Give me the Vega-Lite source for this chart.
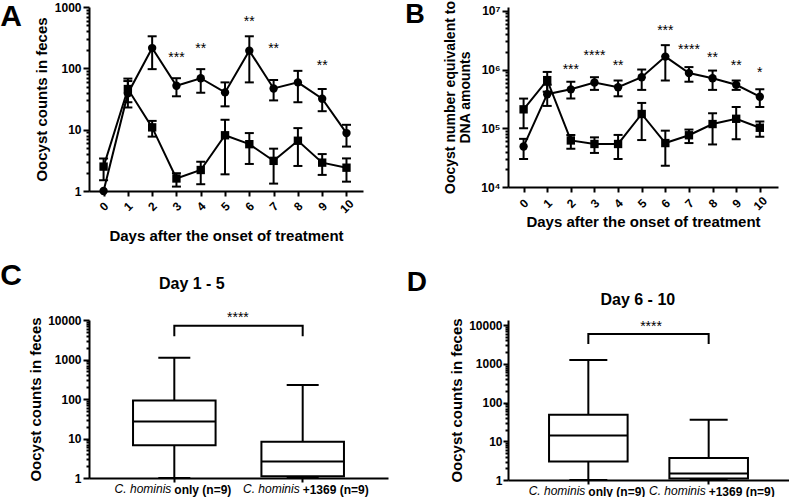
{
  "$schema": "https://vega.github.io/schema/vega-lite/v6.json",
  "background": "white",
  "padding": {"left": 0, "top": 0, "right": 0, "bottom": 0},
  "config": {
    "font": "Liberation Sans",
    "view": {"stroke": null},
    "axis": {
      "grid": false, "domainColor": "black", "domainWidth": 2, "tickColor": "black", "tickWidth": 2,
      "labelColor": "black", "labelFontWeight": "bold", "labelFontSize": 12, "labelFont": "Liberation Sans", "labelFlush": false, "labelOverlap": false,
      "titleColor": "black", "titleFontWeight": "bold", "titleFontSize": 15, "titleFont": "Liberation Sans"
    },
    "tick": {"opacity": 1},
    "text": {"color": "black"}
  },
  "datasets": {
    "A": [
      {"day": 0, "series": "C. hominis only", "mean": 1, "lo": null, "hi": null},
      {"day": 1, "series": "C. hominis only", "mean": 39, "lo": 23, "hi": 68},
      {"day": 2, "series": "C. hominis only", "mean": 214, "lo": 97, "hi": 333},
      {"day": 3, "series": "C. hominis only", "mean": 52, "lo": 35, "hi": 69},
      {"day": 4, "series": "C. hominis only", "mean": 69, "lo": 40, "hi": 97},
      {"day": 5, "series": "C. hominis only", "mean": 40.5, "lo": 24, "hi": 59},
      {"day": 6, "series": "C. hominis only", "mean": 194, "lo": 59, "hi": 333},
      {"day": 7, "series": "C. hominis only", "mean": 47, "lo": 30, "hi": 64.5},
      {"day": 8, "series": "C. hominis only", "mean": 59, "lo": 28, "hi": 91},
      {"day": 9, "series": "C. hominis only", "mean": 32, "lo": 20, "hi": 46},
      {"day": 10, "series": "C. hominis only", "mean": 8.8, "lo": 5.3, "hi": 12},
      {"day": 0, "series": "C. hominis+1369", "mean": 2.5, "lo": 1.5, "hi": 3.4},
      {"day": 1, "series": "C. hominis+1369", "mean": 46, "lo": 28, "hi": 62},
      {"day": 2, "series": "C. hominis+1369", "mean": 10.9, "lo": 7.7, "hi": 13.9},
      {"day": 3, "series": "C. hominis+1369", "mean": 1.6, "lo": 1.18, "hi": 1.95},
      {"day": 4, "series": "C. hominis+1369", "mean": 2.2, "lo": 1.29, "hi": 3.0},
      {"day": 5, "series": "C. hominis+1369", "mean": 8.1, "lo": 1.87, "hi": 14.5},
      {"day": 6, "series": "C. hominis+1369", "mean": 5.8, "lo": 2.76, "hi": 8.8},
      {"day": 7, "series": "C. hominis+1369", "mean": 3.1, "lo": 1.32, "hi": 4.9},
      {"day": 8, "series": "C. hominis+1369", "mean": 6.6, "lo": 2.56, "hi": 10.6},
      {"day": 9, "series": "C. hominis+1369", "mean": 2.9, "lo": 1.83, "hi": 4.0},
      {"day": 10, "series": "C. hominis+1369", "mean": 2.4, "lo": 1.42, "hi": 3.4}
    ],
    "Astars": [
      {"day": 3, "pos": 146, "label": "***"},
      {"day": 4, "pos": 210, "label": "**"},
      {"day": 6, "pos": 580, "label": "**"},
      {"day": 7, "pos": 210, "label": "**"},
      {"day": 9, "pos": 111, "label": "**"}
    ],
    "B": [
      {"day": 0, "series": "C. hominis only", "mean": 4.9e4, "lo": 3.0e4, "hi": 6.6e4},
      {"day": 1, "series": "C. hominis only", "mean": 3.8e5, "lo": 2.4e5, "hi": 5.5e5},
      {"day": 2, "series": "C. hominis only", "mean": 4.6e5, "lo": 3.2e5, "hi": 6.2e5},
      {"day": 3, "series": "C. hominis only", "mean": 6.0e5, "lo": 4.5e5, "hi": 7.4e5},
      {"day": 4, "series": "C. hominis only", "mean": 5.0e5, "lo": 3.5e5, "hi": 6.5e5},
      {"day": 5, "series": "C. hominis only", "mean": 7.4e5, "lo": 4.5e5, "hi": 1.0e6},
      {"day": 6, "series": "C. hominis only", "mean": 1.66e6, "lo": 6.5e5, "hi": 2.6e6},
      {"day": 7, "series": "C. hominis only", "mean": 8.7e5, "lo": 6.2e5, "hi": 1.1e6},
      {"day": 8, "series": "C. hominis only", "mean": 7.1e5, "lo": 4.5e5, "hi": 9.6e5},
      {"day": 9, "series": "C. hominis only", "mean": 5.5e5, "lo": 4.5e5, "hi": 6.5e5},
      {"day": 10, "series": "C. hominis only", "mean": 3.45e5, "lo": 2.3e5, "hi": 4.6e5},
      {"day": 0, "series": "C. hominis+1369", "mean": 2.1e5, "lo": 1.0e5, "hi": 3.2e5},
      {"day": 1, "series": "C. hominis+1369", "mean": 6.6e5, "lo": 4.2e5, "hi": 9.1e5},
      {"day": 2, "series": "C. hominis+1369", "mean": 6.2e4, "lo": 4.5e4, "hi": 7.7e4},
      {"day": 3, "series": "C. hominis+1369", "mean": 5.4e4, "lo": 3.8e4, "hi": 7.0e4},
      {"day": 4, "series": "C. hominis+1369", "mean": 5.4e4, "lo": 3.0e4, "hi": 7.7e4},
      {"day": 5, "series": "C. hominis+1369", "mean": 1.75e5, "lo": 6.3e4, "hi": 2.7e5},
      {"day": 6, "series": "C. hominis+1369", "mean": 5.6e4, "lo": 2.3e4, "hi": 9.1e4},
      {"day": 7, "series": "C. hominis+1369", "mean": 7.6e4, "lo": 5.6e4, "hi": 9.5e4},
      {"day": 8, "series": "C. hominis+1369", "mean": 1.18e5, "lo": 5.3e4, "hi": 1.8e5},
      {"day": 9, "series": "C. hominis+1369", "mean": 1.45e5, "lo": 6.5e4, "hi": 2.3e5},
      {"day": 10, "series": "C. hominis+1369", "mean": 1.02e5, "lo": 7.2e4, "hi": 1.3e5}
    ],
    "Bstars": [
      {"day": 2, "pos": 9.9e5, "label": "***"},
      {"day": 3, "pos": 1.71e6, "label": "****"},
      {"day": 4, "pos": 1.13e6, "label": "**"},
      {"day": 6, "pos": 4.56e6, "label": "***"},
      {"day": 7, "pos": 2.17e6, "label": "****"},
      {"day": 8, "pos": 1.56e6, "label": "**"},
      {"day": 9, "pos": 1.13e6, "label": "**"},
      {"day": 10, "pos": 8.65e5, "label": "*"}
    ],
    "C": [
      {"grp": "C. hominis only (n=9)", "lo": 1, "q1": 6.7, "med": 27, "q3": 91, "hi": 1100},
      {"grp": "C. hominis+1369 (n=9)", "lo": 1, "q1": 1.1, "med": 2.6, "q3": 8.3, "hi": 225}
    ],
    "Cbracket": [
      {"grp": "C. hominis only (n=9)", "v": 3900, "o": 1},
      {"grp": "C. hominis only (n=9)", "v": 7200, "o": 2},
      {"grp": "C. hominis+1369 (n=9)", "v": 7200, "o": 3},
      {"grp": "C. hominis+1369 (n=9)", "v": 3900, "o": 4}
    ],
    "D": [
      {"grp": "C. hominis only (n=9)", "lo": 1, "q1": 3.0, "med": 14, "q3": 48, "hi": 1250},
      {"grp": "C. hominis+1369 (n=9)", "lo": 1, "q1": 1.1, "med": 1.47, "q3": 3.7, "hi": 36}
    ],
    "Dbracket": [
      {"grp": "C. hominis only (n=9)", "v": 3240, "o": 1},
      {"grp": "C. hominis only (n=9)", "v": 5880, "o": 2},
      {"grp": "C. hominis+1369 (n=9)", "v": 5880, "o": 3},
      {"grp": "C. hominis+1369 (n=9)", "v": 3240, "o": 4}
    ]
  },
  "columns": 2,
  "bounds": "flush",
  "spacing": {"row": 129, "column": 120},
  "concat": [
    {
      "width": 274, "height": 184,
      "data": {"name": "A"},
      "encoding": {
        "x": {"field": "day", "type": "quantitative", "scale": {"domain": [-0.6, 10.68], "nice": false, "zero": false},
              "axis": {"values": [0,1,2,3,4,5,6,7,8,9,10], "labelAngle": -45, "labelAlign": "center", "labelBaseline": "middle", "labelPadding": 10, "tickSize": 5, "titlePadding": 14, "labelOverlap": false, "labelBound": false},
              "title": "Days after the onset of treatment"}
      },
      "layer": [
        {"mark": {"type": "line", "color": "black", "strokeWidth": 2},
         "encoding": {
           "y": {"field": "mean", "type": "quantitative", "scale": {"type": "log", "domain": [1, 1000], "nice": false},
                 "axis": {"values": [1,2,3,4,5,6,7,8,9,10,20,30,40,50,60,70,80,90,100,200,300,400,500,600,700,800,900,1000],
                          "labelExpr": "indexof([1,10,100,1000], datum.value) >= 0 ? format(datum.value, 'd') : ''",
                          "tickSize": {"condition": {"test": "indexof([1,10,100,1000], datum.value) >= 0", "value": 6}, "value": 3},
                          "labelPadding": 2, "titlePadding": 5, "labelOverlap": false},
                 "title": "Oocyst counts in feces"},
           "detail": {"field": "series", "type": "nominal"}
         }},
        {"mark": {"type": "rule", "color": "black", "strokeWidth": 2},
         "encoding": {"y": {"field": "lo", "type": "quantitative"}, "y2": {"field": "hi"}}},
        {"mark": {"type": "tick", "orient": "horizontal", "color": "black", "opacity": 1, "thickness": 2, "size": 9},
         "encoding": {"y": {"field": "lo", "type": "quantitative"}}},
        {"mark": {"type": "tick", "orient": "horizontal", "color": "black", "opacity": 1, "thickness": 2, "size": 9},
         "encoding": {"y": {"field": "hi", "type": "quantitative"}}},
        {"mark": {"type": "point", "filled": true, "color": "black", "opacity": 1, "size": 70},
         "encoding": {"y": {"field": "mean", "type": "quantitative"},
                      "shape": {"field": "series", "type": "nominal", "scale": {"domain": ["C. hominis only", "C. hominis+1369"], "range": ["circle", "square"]}, "legend": null}}},
        {"data": {"name": "Astars"}, "mark": {"type": "text", "fontSize": 14, "baseline": "middle", "align": "center"},
         "encoding": {"y": {"field": "pos", "type": "quantitative"}, "text": {"field": "label"}}},
        {"data": {"values": [{"day": -3.81, "pos": 496, "label": "A"}]}, "mark": {"type": "text", "fontSize": 30, "fontWeight": "bold", "baseline": "alphabetic", "align": "center"},
         "encoding": {"y": {"field": "pos", "type": "quantitative"}, "text": {"field": "label"}}}
      ]
    },
    {
      "width": 270, "height": 180,
      "data": {"name": "B"},
      "encoding": {
        "x": {"field": "day", "type": "quantitative", "scale": {"domain": [-0.66, 10.77], "nice": false, "zero": false},
              "axis": {"values": [0,1,2,3,4,5,6,7,8,9,10], "labelAngle": -45, "labelAlign": "center", "labelBaseline": "middle", "labelPadding": 11, "tickSize": 5, "titlePadding": 3, "labelOverlap": false, "labelBound": false},
              "title": "Days after the onset of treatment"}
      },
      "layer": [
        {"mark": {"type": "line", "color": "black", "strokeWidth": 2},
         "encoding": {
           "y": {"field": "mean", "type": "quantitative", "scale": {"type": "log", "domain": [10000, 11600000], "nice": false},
                 "axis": {"values": [10000,20000,30000,40000,50000,60000,70000,80000,90000,100000,200000,300000,400000,500000,600000,700000,800000,900000,1000000,2000000,3000000,4000000,5000000,6000000,7000000,8000000,9000000,10000000],
                          "labelExpr": "datum.value == 10000 ? '10⁴' : datum.value == 100000 ? '10⁵' : datum.value == 1000000 ? '10⁶' : datum.value == 10000000 ? '10⁷' : ''",
                          "tickSize": {"condition": {"test": "indexof([10000,100000,1000000,10000000], datum.value) >= 0", "value": 6}, "value": 3},
                          "labelPadding": 2, "titlePadding": 8, "titleLineHeight": 15, "titleFontSize": 14, "labelOverlap": false},
                 "title": ["Oocyst number equivalent to", "DNA amounts"]},
           "detail": {"field": "series", "type": "nominal"}
         }},
        {"mark": {"type": "rule", "color": "black", "strokeWidth": 2},
         "encoding": {"y": {"field": "lo", "type": "quantitative"}, "y2": {"field": "hi"}}},
        {"mark": {"type": "tick", "orient": "horizontal", "color": "black", "opacity": 1, "thickness": 2, "size": 9},
         "encoding": {"y": {"field": "lo", "type": "quantitative"}}},
        {"mark": {"type": "tick", "orient": "horizontal", "color": "black", "opacity": 1, "thickness": 2, "size": 9},
         "encoding": {"y": {"field": "hi", "type": "quantitative"}}},
        {"mark": {"type": "point", "filled": true, "color": "black", "opacity": 1, "size": 70},
         "encoding": {"y": {"field": "mean", "type": "quantitative"},
                      "shape": {"field": "series", "type": "nominal", "scale": {"domain": ["C. hominis only", "C. hominis+1369"], "range": ["circle", "square"]}, "legend": null}}},
        {"data": {"name": "Bstars"}, "mark": {"type": "text", "fontSize": 14, "baseline": "middle", "align": "center"},
         "encoding": {"y": {"field": "pos", "type": "quantitative"}, "text": {"field": "label"}}},
        {"data": {"values": [{"day": -4.6, "pos": 6200000, "label": "B"}]}, "mark": {"type": "text", "fontSize": 27, "fontWeight": "bold", "baseline": "alphabetic", "align": "center"},
         "encoding": {"y": {"field": "pos", "type": "quantitative"}, "text": {"field": "label"}}}
      ]
    },
    {
      "width": 299, "height": 158,
      "resolve": {"scale": {"x": "independent"}},
      "layer": [
        {
          "data": {"name": "C"},
          "layer": [
            {"mark": {"type": "rule", "color": "black", "strokeWidth": 2},
             "encoding": {
               "x": {"field": "grp", "type": "nominal", "scale": {"domain": ["C. hominis only (n=9)", "C. hominis+1369 (n=9)"], "paddingInner": 0.357, "paddingOuter": 0.343},
                     "axis": {"labelExpr": "replace(datum.label, 'C. hominis', '')", "labelAlign": "left", "labelAngle": 0, "tickSize": 4, "labelPadding": 2, "labelOverlap": false},
                     "title": null},
               "y": {"field": "q3", "type": "quantitative", "scale": {"type": "log", "domain": [1, 10000], "nice": false},
                     "axis": {"values": [1,2,3,4,5,6,7,8,9,10,20,30,40,50,60,70,80,90,100,200,300,400,500,600,700,800,900,1000,2000,3000,4000,5000,6000,7000,8000,9000,10000],
                              "labelExpr": "indexof([1,10,100,1000,10000], datum.value) >= 0 ? format(datum.value, 'd') : ''",
                              "tickSize": {"condition": {"test": "indexof([1,10,100,1000,10000], datum.value) >= 0", "value": 6}, "value": 3},
                              "labelPadding": 2, "titlePadding": 4, "labelOverlap": false},
                     "title": "Oocyst counts in feces"},
               "y2": {"field": "hi"}
             }},
            {"mark": {"type": "rule", "color": "black", "strokeWidth": 2},
             "encoding": {"x": {"field": "grp", "type": "nominal"}, "y": {"field": "lo", "type": "quantitative"}, "y2": {"field": "q1"}}},
            {"mark": {"type": "tick", "orient": "horizontal", "color": "black", "opacity": 1, "thickness": 2, "size": 32},
             "encoding": {"x": {"field": "grp", "type": "nominal"}, "y": {"field": "hi", "type": "quantitative"}}},
            {"mark": {"type": "tick", "orient": "horizontal", "color": "black", "opacity": 1, "thickness": 2, "size": 32},
             "encoding": {"x": {"field": "grp", "type": "nominal"}, "y": {"field": "lo", "type": "quantitative"}}},
            {"mark": {"type": "bar", "fill": "white", "stroke": "black", "strokeWidth": 2, "opacity": 1},
             "encoding": {"x": {"field": "grp", "type": "nominal"}, "y": {"field": "q1", "type": "quantitative"}, "y2": {"field": "q3"}}},
            {"mark": {"type": "tick", "orient": "horizontal", "color": "black", "opacity": 1, "thickness": 2, "size": 83},
             "encoding": {"x": {"field": "grp", "type": "nominal"}, "y": {"field": "med", "type": "quantitative"}}},
            {"mark": {"type": "text", "text": "C. hominis", "fontStyle": "italic", "fontSize": 12, "align": "right", "baseline": "top", "dy": 6, "dx": -3},
             "encoding": {"x": {"field": "grp", "type": "nominal"}, "y": {"datum": 1, "type": "quantitative"}}},
            {"data": {"name": "Cbracket"}, "mark": {"type": "line", "color": "black", "strokeWidth": 2},
             "encoding": {"x": {"field": "grp", "type": "nominal"}, "y": {"field": "v", "type": "quantitative"}, "order": {"field": "o", "type": "quantitative"}}}
          ]
        },
        {
          "layer": [
            {"data": {"values": [{"px": -0.261, "py": 76900, "label": "C"}]},
             "mark": {"type": "text", "fontSize": 30, "fontWeight": "bold", "align": "center", "baseline": "alphabetic"},
             "encoding": {"x": {"field": "px", "type": "quantitative", "scale": {"domain": [0, 1], "nice": false, "zero": false}, "axis": null},
                          "y": {"field": "py", "type": "quantitative"}, "text": {"field": "label"}}},
            {"data": {"values": [{"px": 0.344, "py": 62700, "label": "Day 1 - 5"}]},
             "mark": {"type": "text", "fontSize": 16, "fontWeight": "bold", "align": "center", "baseline": "alphabetic"},
             "encoding": {"x": {"field": "px", "type": "quantitative"}, "y": {"field": "py", "type": "quantitative"}, "text": {"field": "label"}}},
            {"data": {"values": [{"px": 0.498, "py": 11100, "label": "****"}]},
             "mark": {"type": "text", "fontSize": 14, "align": "center", "baseline": "middle"},
             "encoding": {"x": {"field": "px", "type": "quantitative"}, "y": {"field": "py", "type": "quantitative"}, "text": {"field": "label"}}}
          ]
        }
      ]
    },
    {
      "width": 281, "height": 160,
      "resolve": {"scale": {"x": "independent"}},
      "layer": [
        {
          "data": {"name": "D"},
          "layer": [
            {"mark": {"type": "rule", "color": "black", "strokeWidth": 2},
             "encoding": {
               "x": {"field": "grp", "type": "nominal", "scale": {"domain": ["C. hominis only (n=9)", "C. hominis+1369 (n=9)"], "paddingInner": 0.347, "paddingOuter": 0.341},
                     "axis": {"labelExpr": "replace(datum.label, 'C. hominis', '')", "labelAlign": "left", "labelAngle": 0, "tickSize": 4, "labelPadding": 2, "labelOverlap": false},
                     "title": null},
               "y": {"field": "q3", "type": "quantitative", "scale": {"type": "log", "domain": [1, 13500], "nice": false},
                     "axis": {"values": [1,2,3,4,5,6,7,8,9,10,20,30,40,50,60,70,80,90,100,200,300,400,500,600,700,800,900,1000,2000,3000,4000,5000,6000,7000,8000,9000,10000],
                              "labelExpr": "indexof([1,10,100,1000,10000], datum.value) >= 0 ? format(datum.value, 'd') : ''",
                              "tickSize": {"condition": {"test": "indexof([1,10,100,1000,10000], datum.value) >= 0", "value": 5}, "value": 3},
                              "labelPadding": 1, "titlePadding": 4, "labelOverlap": false},
                     "title": "Oocyst counts in feces"},
               "y2": {"field": "hi"}
             }},
            {"mark": {"type": "rule", "color": "black", "strokeWidth": 2},
             "encoding": {"x": {"field": "grp", "type": "nominal"}, "y": {"field": "lo", "type": "quantitative"}, "y2": {"field": "q1"}}},
            {"mark": {"type": "tick", "orient": "horizontal", "color": "black", "opacity": 1, "thickness": 2, "size": 38},
             "encoding": {"x": {"field": "grp", "type": "nominal"}, "y": {"field": "hi", "type": "quantitative"}}},
            {"mark": {"type": "tick", "orient": "horizontal", "color": "black", "opacity": 1, "thickness": 2, "size": 38},
             "encoding": {"x": {"field": "grp", "type": "nominal"}, "y": {"field": "lo", "type": "quantitative"}}},
            {"mark": {"type": "bar", "fill": "white", "stroke": "black", "strokeWidth": 2, "opacity": 1},
             "encoding": {"x": {"field": "grp", "type": "nominal"}, "y": {"field": "q1", "type": "quantitative"}, "y2": {"field": "q3"}}},
            {"mark": {"type": "tick", "orient": "horizontal", "color": "black", "opacity": 1, "thickness": 2, "size": 78},
             "encoding": {"x": {"field": "grp", "type": "nominal"}, "y": {"field": "med", "type": "quantitative"}}},
            {"mark": {"type": "text", "text": "C. hominis", "fontStyle": "italic", "fontSize": 12, "align": "right", "baseline": "top", "dy": 6, "dx": -3},
             "encoding": {"x": {"field": "grp", "type": "nominal"}, "y": {"datum": 1, "type": "quantitative"}}},
            {"data": {"name": "Dbracket"}, "mark": {"type": "line", "color": "black", "strokeWidth": 2},
             "encoding": {"x": {"field": "grp", "type": "nominal"}, "y": {"field": "v", "type": "quantitative"}, "order": {"field": "o", "type": "quantitative"}}}
          ]
        },
        {
          "layer": [
            {"data": {"values": [{"px": -0.3245, "py": 77000, "label": "D"}]},
             "mark": {"type": "text", "fontSize": 28, "fontWeight": "bold", "align": "center", "baseline": "alphabetic"},
             "encoding": {"x": {"field": "px", "type": "quantitative", "scale": {"domain": [0, 1], "nice": false, "zero": false}, "axis": null},
                          "y": {"field": "py", "type": "quantitative"}, "text": {"field": "label"}}},
            {"data": {"values": [{"px": 0.462, "py": 32900, "label": "Day 6 - 10"}]},
             "mark": {"type": "text", "fontSize": 16, "fontWeight": "bold", "align": "center", "baseline": "alphabetic"},
             "encoding": {"x": {"field": "px", "type": "quantitative"}, "y": {"field": "py", "type": "quantitative"}, "text": {"field": "label"}}},
            {"data": {"values": [{"px": 0.509, "py": 9170, "label": "****"}]},
             "mark": {"type": "text", "fontSize": 14, "align": "center", "baseline": "middle"},
             "encoding": {"x": {"field": "px", "type": "quantitative"}, "y": {"field": "py", "type": "quantitative"}, "text": {"field": "label"}}}
          ]
        }
      ]
    }
  ]
}
